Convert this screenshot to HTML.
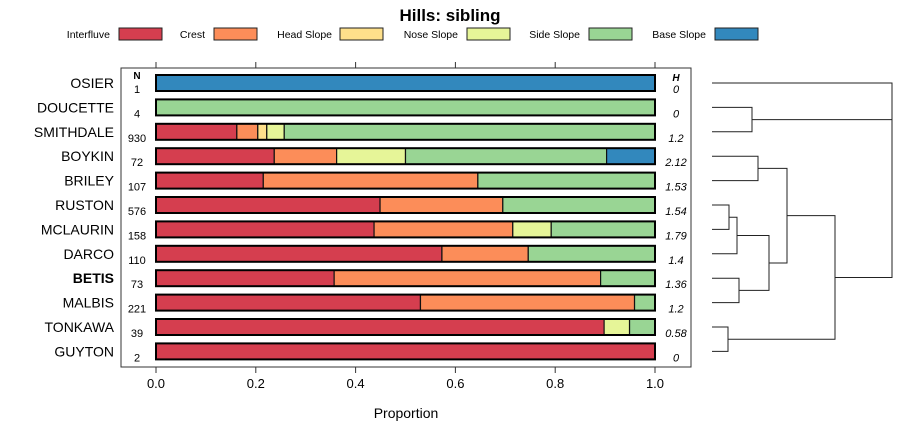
<!DOCTYPE html>
<html><head><meta charset="utf-8"><style>
body{margin:0;background:#fff;}
svg{display:block;font-family:"Liberation Sans",sans-serif;}
</style></head><body>
<svg id="c" width="900" height="440" xmlns="http://www.w3.org/2000/svg"></svg>
<script>
const categories=["Interfluve","Crest","Head Slope","Nose Slope","Side Slope","Base Slope"];
const colors=["#D53E4F","#FC8D59","#FEE08B","#E6F598","#99D594","#3288BD"];
const soils=["OSIER","DOUCETTE","SMITHDALE","BOYKIN","BRILEY","RUSTON","MCLAURIN","DARCO","BETIS","MALBIS","TONKAWA","GUYTON"];
const counts=[1,4,930,72,107,576,158,110,73,221,39,2];
const entropy=["0","0","1.2","2.12","1.53","1.54","1.79","1.4","1.36","1.2","0.58","0"];
const interfluve=[0,0,0.162,0.237,0.215,0.449,0.437,0.573,0.357,0.530,0.898,1];
const crest=[0,0,0.042,0.125,0.430,0.246,0.278,0.173,0.534,0.429,0,0];
const headSlope=[0,0,0.018,0,0,0,0,0,0,0,0,0];
const noseSlope=[0,0,0.035,0.138,0,0,0.077,0,0,0,0.051,0];
const sideSlope=[0,1,0.743,0.403,0.355,0.305,0.208,0.254,0.109,0.041,0.051,0];
const baseSlope=[1,0,0,0.097,0,0,0,0,0,0,0,0];
const xTicks=[0,0.2,0.4,0.6,0.8,1.0];
const tickLabels=["0.0","0.2","0.4","0.6","0.8","1.0"];
const series=[interfluve,crest,headSlope,noseSlope,sideSlope,baseSlope];
const NS="http://www.w3.org/2000/svg";
const svg=document.getElementById('c');
function el(t,a,p){const e=document.createElementNS(NS,t);for(const k in a)e.setAttribute(k,a[k]);(p||svg).appendChild(e);return e;}
function txt(s,a){const e=el('text',a);e.textContent=s;return e;}
const X=v=>156+v*499;
const Y=i=>83+i*24.4;
// title
let t=txt("Hills: sibling",{x:450,y:21,"text-anchor":"middle","font-size":17,"font-weight":"bold"});

// legend
const lt=[110,205,332,458,580,706], lr=[119,214,340,467,589,715];
categories.forEach((c,i)=>{
  const g=el('g',{});
  
  
  const tx=el('text',{x:lt[i],y:38,"text-anchor":"end","font-size":10.5},g);tx.textContent=c;
  el('rect',{x:lr[i],y:28,width:43,height:12,fill:colors[i],stroke:"#222","stroke-width":1},g);
});
// panel
let p=el('rect',{x:121,y:68,width:570,height:299,fill:"none",stroke:"#333","stroke-width":1});

xTicks.forEach((v,i)=>{
  el('line',{x1:X(v),x2:X(v),y1:62,y2:68,stroke:"#333"});
  el('line',{x1:X(v),x2:X(v),y1:367,y2:373,stroke:"#333"});
  const l=txt(tickLabels[i],{x:X(v),y:388,"text-anchor":"middle","font-size":13});
  
});
let xl=txt("Proportion",{x:406,y:418,"text-anchor":"middle","font-size":14});

txt("N",{x:137,y:79,"text-anchor":"middle","font-size":10,"font-weight":"bold"});
txt("H",{x:676,y:81,"text-anchor":"middle","font-size":10,"font-weight":"bold","font-style":"italic"});
soils.forEach((s,i)=>{
  const y=Y(i);
  const lab=txt(s,{x:114,y:y+5,"text-anchor":"end","font-size":14,"font-weight":s==="BETIS"?"bold":"normal"});
  
  txt(String(counts[i]),{x:137,y:y+(i===0?10:10),"text-anchor":"middle","font-size":11});
  txt(entropy[i],{x:676,y:y+10,"text-anchor":"middle","font-size":11,"font-style":"italic"});
  let cum=0;
  series.forEach((ser,k)=>{
    const v=ser[i]; if(v<=0)return;
    const r=el('rect',{x:X(cum),y:y-8,width:X(cum+v)-X(cum),height:16,fill:colors[k],stroke:"#111","stroke-width":1.2});
    
    
    cum+=v;
  });
  el('rect',{x:X(0),y:y-8,width:X(1)-X(0),height:16,fill:"none",stroke:"#000","stroke-width":2});
});
// dendrogram
const dg=el('g',{stroke:"#222","stroke-width":1,fill:"none"});

function seg(pts){el('polyline',{points:pts.map(p=>p.join(',')).join(' ')},dg);}
const L=712;
seg([[L,Y(1)],[752,Y(1)],[752,Y(2)],[L,Y(2)]]);
seg([[L,Y(3)],[758,Y(3)],[758,Y(4)],[L,Y(4)]]);
seg([[L,Y(5)],[729,Y(5)],[729,Y(6)],[L,Y(6)]]);
const rm=(Y(5)+Y(6))/2;
seg([[729,rm],[737,rm],[737,Y(7)],[L,Y(7)]]);
seg([[L,Y(8)],[739,Y(8)],[739,Y(9)],[L,Y(9)]]);
const a=(rm+Y(7))/2,b=(Y(8)+Y(9))/2;
seg([[737,a],[769,a],[769,b],[739,b]]);
const c=(a+b)/2,d=(Y(3)+Y(4))/2;
seg([[758,d],[787,d],[787,c],[769,c]]);
seg([[L,Y(10)],[728,Y(10)],[728,Y(11)],[L,Y(11)]]);
const e=(d+c)/2,f=(Y(10)+Y(11))/2;
seg([[787,e],[835,e],[835,f],[728,f]]);
const g2=(e+f)/2,h=(Y(1)+Y(2))/2;
seg([[752,h],[892,h]]);
seg([[L,Y(0)],[892,Y(0)],[892,g2],[835,g2]]);
</script>
</body></html>
